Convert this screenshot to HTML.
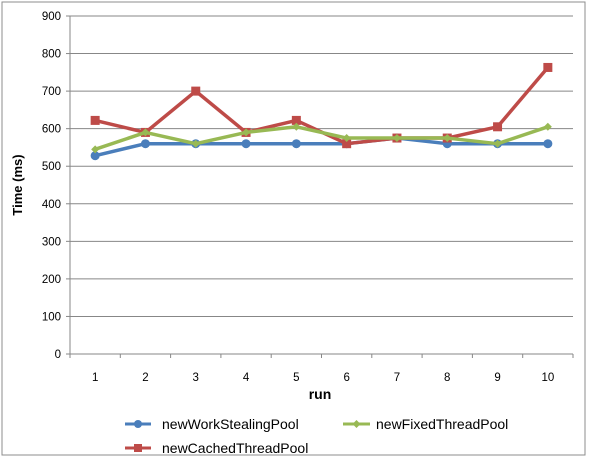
<!DOCTYPE html>
<html><head><meta charset="utf-8"><style>
body{margin:0;background:#fff;}
svg{display:block;font-family:"Liberation Sans",sans-serif;}
</style></head><body>
<svg id="c" width="589" height="459">
<rect x="2" y="2" width="583" height="453" fill="#fff" stroke="#8c8c8c"/>
<g id="grid"></g><g id="axes"></g><g id="series"></g>
<text x="0" y="0" transform="translate(22,185) rotate(-90)" text-anchor="middle" font-size="13" font-weight="bold" fill="#000">Time (ms)</text>
<text x="320" y="399" text-anchor="middle" font-size="14" font-weight="bold" fill="#000">run</text>
<g>
<g>
<line x1="125" y1="424" x2="151" y2="424" stroke="#4a7ebb" stroke-width="3"/><circle cx="138" cy="424" r="4" fill="#4a7ebb"/>
<text x="162" y="429" font-size="14">newWorkStealingPool</text></g>
<g>
<line x1="343" y1="424" x2="370" y2="424" stroke="#98b954" stroke-width="3"/><path d="M356.5 420 L360.5 424 L356.5 428 L352.5 424Z" fill="#98b954"/>
<text x="376" y="429" font-size="14">newFixedThreadPool</text></g>
<g>
<line x1="125" y1="448" x2="151" y2="448" stroke="#be4b48" stroke-width="3"/><rect x="134" y="444" width="8" height="8" fill="#be4b48"/>
<text x="162" y="453" font-size="14">newCachedThreadPool</text></g>
</g>
</svg>
<script>
const categories=["1","2","3","4","5","6","7","8","9","10"];
const yTicks=[0,100,200,300,400,500,600,700,800,900];
const workStealing=[528,560,560,560,560,560,575,560,560,560];
const fixedPool=[545,590,560,590,605,575,575,575,560,605];
const cachedPool=[622,590,700,590,622,560,575,575,605,763];
const NS="http://www.w3.org/2000/svg";
const L=70,R=573,T=16,B=354;
const band=(R-L)/categories.length;
const xS=i=>L+band*(i+0.5);
const yS=v=>B-(v/900)*(B-T);
function mk(tag,attrs,parent){const e=document.createElementNS(NS,tag);for(const k in attrs)e.setAttribute(k,attrs[k]);parent.appendChild(e);return e;}
const grid=document.getElementById('grid'),axes=document.getElementById('axes'),ser=document.getElementById('series');
yTicks.forEach(v=>{
 if(v>0){const g=mk('line',{x1:L,x2:R,y1:yS(v),y2:yS(v),stroke:'#878787','stroke-width':1},grid);
 
 }
 const t=mk('text',{x:61,y:yS(v)+4,'text-anchor':'end','font-size':11.5,fill:'#000'},axes);t.textContent=v;
 
 
 mk('line',{x1:L-4,x2:L,y1:yS(v),y2:yS(v),stroke:'#878787'},axes);
});
const ya=mk('line',{x1:L,x2:L,y1:T,y2:B,stroke:'#878787'},axes);


const xa=mk('line',{x1:L,x2:R,y1:B,y2:B,stroke:'#878787'},axes);


for(let i=0;i<=categories.length;i++)mk('line',{x1:L+band*i,x2:L+band*i,y1:B,y2:B+4,stroke:'#878787'},axes);
categories.forEach((c,i)=>{const t=mk('text',{x:xS(i),y:B+27,'text-anchor':'middle','font-size':11.5},axes);t.textContent=c;
 
 });
function draw(data,color,shape,name){
 const g=mk('g',{},ser);
 
 
 mk('polyline',{points:data.map((v,i)=>xS(i)+','+yS(v)).join(' '),fill:'none',stroke:color,'stroke-width':3.5,'stroke-linejoin':'round'},g);
 data.forEach((v,i)=>{const x=xS(i),y=yS(v);let m;
  if(shape==='circle')m=mk('circle',{cx:x,cy:y,r:4.5,fill:color},g);
  else if(shape==='square')m=mk('rect',{x:x-4.5,y:y-4.5,width:9,height:9,fill:color},g);
  else m=mk('path',{d:`M${x} ${y-4}L${x+4} ${y}L${x} ${y+4}L${x-4} ${y}Z`,fill:color},g);
  
  });
}
draw(workStealing,'#4a7ebb','circle','series-workstealing');
draw(cachedPool,'#be4b48','square','series-cached');
draw(fixedPool,'#98b954','diamond','series-fixed');
</script>
</body></html>
